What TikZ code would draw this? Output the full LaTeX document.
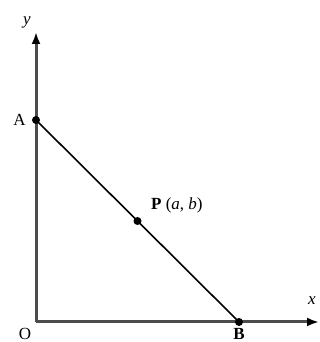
\documentclass[tikz,border=0pt]{standalone}
\usepackage{fontspec}
\setmainfont{Liberation Serif}
\usepackage{tikz}
\usetikzlibrary{arrows.meta,positioning}
\tikzset{
  axis/.style={draw=black!70,line width=3pt,-{Latex[length=12pt,width=9pt,color=black]}},
  seg/.style={line width=1.6pt},
  dot/.style={circle,fill,inner sep=0pt,minimum size=8pt},
  lbl/.style={font=\fontsize{17}{18}\selectfont,inner sep=1pt},
}

\begin{document}
\begin{tikzpicture}[x=1pt,y=1pt]
 \useasboundingbox (0,0) rectangle (320,342);
 \coordinate (O) at (36,20);
 \coordinate (xend) at (319,20);
 \coordinate (yend) at (36,310);
 \draw[axis] (O) -- (xend);
 \draw[axis] (O) -- (yend);
 \node[dot] (A) at (36,222){};
 \node[dot] (B) at (239,20){};
 \node[dot] (P) at (137.5,121){};
 \draw[seg] (A.center) -- (B.center);
 \node[lbl] (ylab) at (27,320){\itshape y};
 \node[lbl] (xlab) at (312,41){\itshape x};
 \node[lbl,left=5pt of A] (alab){A};
 \node[lbl] (olab) at (25,8){O};
 \node[lbl] (blab) at (239,8){\bfseries B};
 \node[lbl,anchor=west] (plab) at (150,137){\textbf{P} (\textit{a}, \textit{b})};
\end{tikzpicture}
\end{document}
